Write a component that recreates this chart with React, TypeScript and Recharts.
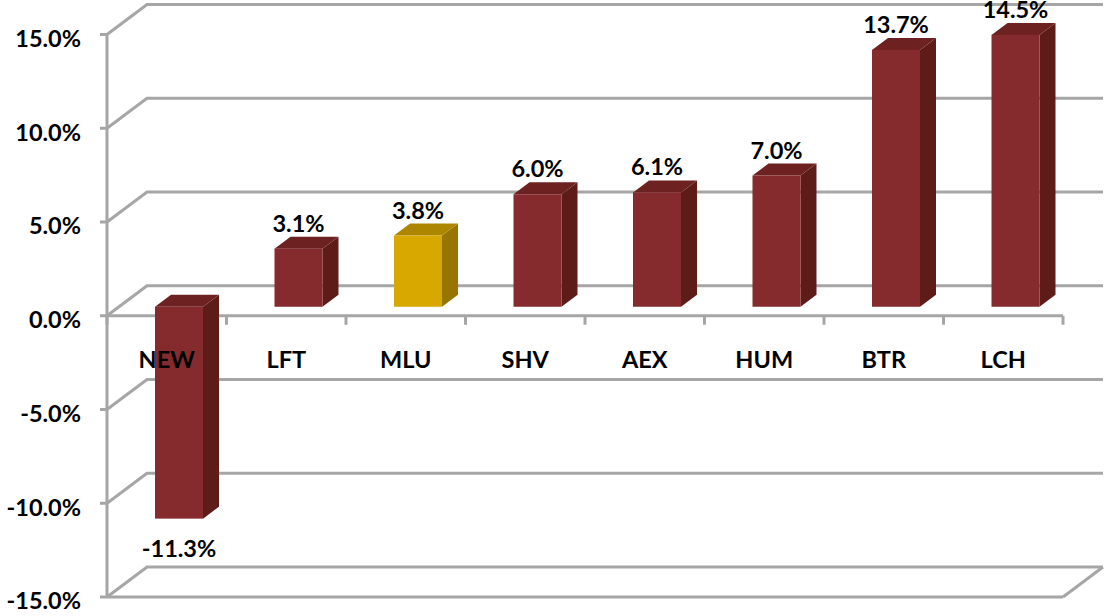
import React from "react";
import { BarChart, Bar, XAxis, YAxis, CartesianGrid, LabelList } from "recharts";

const categories = ["NEW", "LFT", "MLU", "SHV", "AEX", "HUM", "BTR", "LCH"];
const changes = [-11.3, 3.1, 3.8, 6.0, 6.1, 7.0, 13.7, 14.5];
const yTicks = [-15, -10, -5, 0, 5, 10, 15];
const highlighted = ["MLU"];

const data = categories.map((name, i) => ({ name, change: changes[i] }));

const WIDTH = 1104;
const HEIGHT = 616;
const AXIS_W = 107;
const AXIS_H = 19;
const MARGIN = { top: 34.5, right: 41, bottom: 0, left: 0 };
const GRID = "#A6A6A6";
const GRID_W = 3;
const FONT = "Lato, 'Open Sans', sans-serif";
const TEXT_SIZE = 23.5;

// fake 3D: back wall offset, bar depth, and how far bars sit inside the floor
const WALL_DX = 40;
const WALL_DY = 30;
const DEPTH_X = 16;
const DEPTH_Y = 12;
const BAR_DX = 12;
const BAR_DY = 9;

const plotHeight = HEIGHT - MARGIN.top - AXIS_H;
const zeroY = MARGIN.top + plotHeight / 2;
const bandWidth = (WIDTH - AXIS_W - MARGIN.right) / categories.length;

const gridLine = (props: any) => {
  const { x1, x2, y1, index } = props;
  const isFloor = Math.abs(y1 - (MARGIN.top + plotHeight)) < 1;
  const back = `${x1},${y1} ${x1 + WALL_DX},${y1 - WALL_DY} ${x2 + WALL_DX},${y1 - WALL_DY}`;
  const isFront = isFloor || Math.abs(y1 - zeroY) < 1;
  return (
    <g key={`wall-${index}`}>
      <polyline points={back} fill="none" stroke={GRID} strokeWidth={GRID_W} />
      {isFront && <line x1={x1} y1={y1} x2={x2} y2={y1} stroke={GRID} strokeWidth={GRID_W} />}
      {isFloor && (
        <line x1={x2} y1={y1} x2={x2 + WALL_DX} y2={y1 - WALL_DY} stroke={GRID} strokeWidth={GRID_W} />
      )}
    </g>
  );
};

const Box = (props: any) => {
  const { x, y, width, height, payload } = props;
  const gold = highlighted.includes(payload.name);
  const left = x + BAR_DX;
  const right = left + width;
  const top = Math.min(y, y + height) - BAR_DY;
  const bottom = Math.max(y, y + height) - BAR_DY;
  return (
    <g>
      <polygon
        points={`${right},${top} ${right + DEPTH_X},${top - DEPTH_Y} ${right + DEPTH_X},${bottom - DEPTH_Y} ${right},${bottom}`}
        fill={gold ? "#977500" : "#5E1C19"}
      />
      <polygon
        points={`${left},${top} ${left + DEPTH_X},${top - DEPTH_Y} ${right + DEPTH_X},${top - DEPTH_Y} ${right},${top}`}
        fill={gold ? "#AC8600" : "#6D2221"}
      />
      <rect x={left} y={top} width={width} height={bottom - top} fill={gold ? "#D8A700" : "#852B2D"} />
    </g>
  );
};

const BarValue = (props: any) => {
  const { x, y, width, height, value } = props;
  const top = Math.min(y, y + height) - BAR_DY;
  const bottom = Math.max(y, y + height) - BAR_DY;
  const labelY = value < 0 ? bottom + 38 : top - 17;
  return (
    <text x={x + BAR_DX + width / 2} y={labelY} textAnchor="middle" fontFamily={FONT} fontWeight={700} fontSize={TEXT_SIZE} fill="#000">
      {value.toFixed(1)}%
    </text>
  );
};

const CategoryTick = (props: any) => {
  const { x, index, payload } = props;
  const edge = x - bandWidth / 2;
  return (
    <g>
      <line x1={edge} y1={zeroY} x2={edge} y2={zeroY + 9} stroke={GRID} strokeWidth={GRID_W} />
      {index === categories.length - 1 && (
        <line x1={x + bandWidth / 2} y1={zeroY} x2={x + bandWidth / 2} y2={zeroY + 9} stroke={GRID} strokeWidth={GRID_W} />
      )}
      <text x={x} y={zeroY + 52} textAnchor="middle" fontFamily={FONT} fontWeight={700} fontSize={TEXT_SIZE} fill="#000">
        {payload.value}
      </text>
    </g>
  );
};

export default function App() {
  return (
    <div style={{ position: "absolute", left: 0, top: 0, width: WIDTH, height: HEIGHT, overflow: "hidden", background: "#fff" }}>
      <BarChart width={WIDTH} height={HEIGHT} data={data} margin={MARGIN} barSize={48}>
        <CartesianGrid vertical={false} horizontal={gridLine} syncWithTicks />
        <Bar dataKey="change" shape={Box} isAnimationActive={false}>
          <LabelList dataKey="change" content={BarValue} />
        </Bar>
        <YAxis
          type="number"
          domain={[-15, 15]}
          ticks={yTicks}
          interval={0}
          width={AXIS_W}
          axisLine={{ stroke: GRID, strokeWidth: GRID_W }}
          tickLine={{ stroke: GRID, strokeWidth: GRID_W }}
          tickSize={7}
          tickMargin={19}
          tick={{ fontFamily: FONT, fontWeight: 700, fontSize: TEXT_SIZE, fill: "#000", dy: 4 }}
          tickFormatter={(v: number) => `${v.toFixed(1)}%`}
        />
        <XAxis
          dataKey="name"
          height={AXIS_H}
          axisLine={false}
          tickLine={false}
          interval={0}
          tick={CategoryTick}
        />
      </BarChart>
    </div>
  );
}
